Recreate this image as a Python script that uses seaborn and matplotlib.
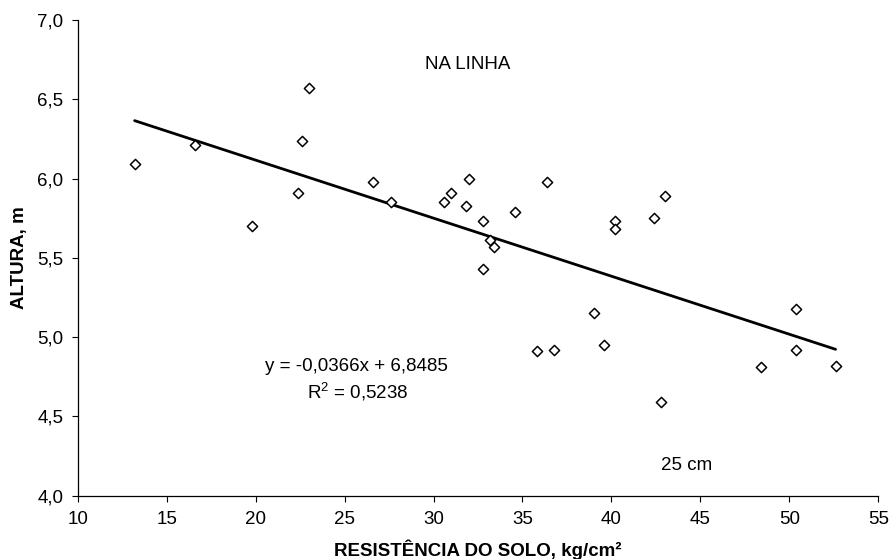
import matplotlib
matplotlib.use("Agg")
import matplotlib.pyplot as plt
import seaborn as sns
import numpy as np
import pandas as pd
from matplotlib.ticker import FuncFormatter, MultipleLocator

# ---- data ----
resistencia = [13.2, 16.6, 19.8, 23.0, 22.6, 22.4, 26.6, 27.6, 30.6, 31.0,
               32.0, 31.8, 32.8, 33.2, 33.4, 32.8, 34.6, 36.4, 40.2, 40.2,
               42.4, 43.0, 39.0, 35.8, 36.8, 39.6, 42.8, 48.4, 50.4, 50.4, 52.6]
altura = [6.09, 6.21, 5.70, 6.57, 6.24, 5.91, 5.98, 5.85, 5.85, 5.91,
          6.00, 5.83, 5.73, 5.61, 5.57, 5.43, 5.79, 5.98, 5.73, 5.68,
          5.75, 5.89, 5.15, 4.91, 4.92, 4.95, 4.59, 4.81, 5.18, 4.92, 4.82]
slope = -0.0366
intercept = 6.8485
r2 = 0.5238
x_ticks = [10, 15, 20, 25, 30, 35, 40, 45, 50, 55]
y_ticks = [4.0, 4.5, 5.0, 5.5, 6.0, 6.5, 7.0]

sns.set_style("white")
plt.rcParams['font.family'] = ['Liberation Sans', 'DejaVu Sans']
plt.rcParams['mathtext.fontset'] = 'custom'
plt.rcParams['mathtext.rm'] = 'Liberation Sans'
plt.rcParams['mathtext.it'] = 'Liberation Sans:italic'
plt.rcParams['text.color'] = 'black'
plt.rcParams['axes.labelcolor'] = 'black'

FS = 13.5

df = pd.DataFrame({"x": resistencia, "y": altura})
x_line = [min(resistencia), max(resistencia)]
line_df = pd.DataFrame({"x": x_line, "y": [slope * v + intercept for v in x_line]})

fig = plt.figure(figsize=(8.91, 5.59), dpi=100)
ax = fig.add_axes([0.0872, 0.1132, 0.8985, 0.851])

sns.lineplot(data=line_df, x="x", y="y", ax=ax, color="black", linewidth=2.0)
sns.scatterplot(data=df, x="x", y="y", ax=ax, marker="D", s=27,
                facecolor="white", edgecolor="black", linewidth=1.1, zorder=3)

ax.set_xlim(10, 55)
ax.set_ylim(4.0, 7.0)
ax.set_xticks(x_ticks)
ax.set_yticks(y_ticks)
ax.xaxis.set_major_formatter(FuncFormatter(lambda v, p: f"{v:.0f}"))
ax.yaxis.set_major_formatter(FuncFormatter(lambda v, p: f"{v:.1f}".replace(".", ",")))

for side in ["top", "right"]:
    ax.spines[side].set_visible(False)
for side in ["left", "bottom"]:
    ax.spines[side].set_color("black")
    ax.spines[side].set_linewidth(0.9)

ax.tick_params(axis="both", which="major", direction="out", length=4.3, width=0.8,
               color="black", labelsize=FS, labelcolor="black",
               left=True, bottom=True)
ax.tick_params(axis="x", pad=7)
ax.tick_params(axis="y", pad=6)

ax.set_xlabel("RESISTÊNCIA DO SOLO, kg/cm²", fontsize=FS, fontweight="bold")
ax.set_ylabel("ALTURA, m", fontsize=FS, fontweight="bold")
ax.xaxis.set_label_coords(0.5, -0.113)
ax.xaxis.label.set_va("center")
ax.yaxis.set_label_coords(-0.0733, 0.5)
ax.yaxis.label.set_va("center")

ax.text(0.4875, 0.907, "NA LINHA", transform=ax.transAxes, ha="center", va="center",
        fontsize=FS)
eq = f"y = {slope:.4f}x + {intercept:.4f}".replace(".", ",")
ax.text(0.3485, 0.2712, eq, transform=ax.transAxes, ha="center", va="center",
        fontsize=FS)
ax.text(0.3495, 0.2186, "R$^{2}$ = " + f"{r2:.4f}".replace(".", ","),
        transform=ax.transAxes, ha="center", va="center", fontsize=FS)
ax.text(0.7607, 0.0645, "25 cm", transform=ax.transAxes, ha="center", va="center",
        fontsize=FS)

fig.savefig("out.png", dpi=100, facecolor="white")
